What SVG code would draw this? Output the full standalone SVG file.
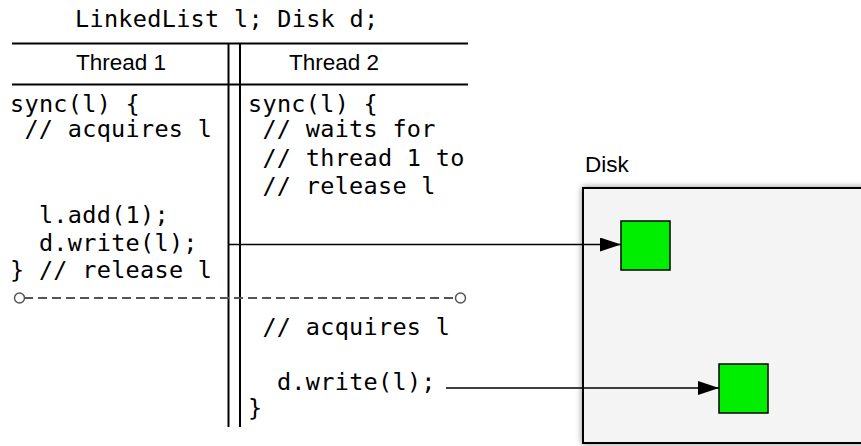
<svg xmlns="http://www.w3.org/2000/svg" width="861" height="446" viewBox="0 0 861 446">
<style>
.mono{font-family:"DejaVu Sans Mono","Liberation Mono",monospace;font-size:23.5px;letter-spacing:0.3px;fill:#000}
.sans{font-family:"Liberation Sans",Arial,sans-serif;font-size:22.5px;fill:#000}
.rule{stroke:#000;stroke-width:2;fill:none}
.conn{stroke:#000;stroke-width:1.5;fill:none}
.sq{fill:#00ee00;stroke:#000;stroke-width:1.5}
</style>
<defs>
<marker id="ah" markerWidth="21" markerHeight="14" refX="21" refY="7" orient="auto" markerUnits="userSpaceOnUse">
<path d="M0,0 L21,7 L0,14 Z" fill="#000"/>
</marker>
<filter id="sh" x="-10%" y="-10%" width="120%" height="120%">
<feDropShadow dx="0" dy="0" stdDeviation="3" flood-color="#000" flood-opacity="0.45"/>
</filter>
</defs>
<rect width="861" height="446" fill="#fff"/>

<g id="table">
<text class="mono" x="75" y="27">LinkedList l; Disk d;</text>
<line class="rule" x1="12" y1="43.5" x2="468" y2="43.5"/>
<line class="rule" x1="12" y1="84.5" x2="468" y2="84.5"/>
<line class="rule" x1="228.5" y1="43" x2="228.5" y2="427"/>
<line class="rule" x1="240" y1="43" x2="240" y2="427"/>
<text class="sans" x="121" y="70" text-anchor="middle">Thread 1</text>
<text class="sans" x="334" y="70" text-anchor="middle">Thread 2</text>
</g>

<g id="thread1">
<text class="mono" x="10" y="112">sync(l) {</text>
<text class="mono" x="24.4" y="137">// acquires l</text>
<text class="mono" x="38.9" y="223">l.add(1);</text>
<text class="mono" x="38.9" y="251">d.write(l);</text>
<text class="mono" x="10" y="278">} // release l</text>
</g>

<g id="thread2">
<text class="mono" x="248" y="112">sync(l) {</text>
<text class="mono" x="262.4" y="137">// waits for</text>
<text class="mono" x="262.4" y="166">// thread 1 to</text>
<text class="mono" x="262.4" y="194">// release l</text>
<text class="mono" x="262.4" y="335">// acquires l</text>
<text class="mono" x="276.9" y="390">d.write(l);</text>
<text class="mono" x="248" y="416">}</text>
</g>

<g id="disk">
<text class="sans" x="585" y="172">Disk</text>
<rect x="583" y="188" width="290" height="255" fill="#f4f4f4" stroke="#000" stroke-width="2" filter="url(#sh)"/>
</g>
<g id="block1"><rect class="sq" x="621" y="221" width="49" height="49"/></g>
<g id="block2"><rect class="sq" x="719" y="364" width="49" height="49"/></g>

<g id="connectors">
<line x1="24" y1="298" x2="456" y2="298" stroke="#555" stroke-width="2" stroke-dasharray="9,5"/>
<circle cx="19.5" cy="298" r="5" fill="#fff" stroke="#555" stroke-width="1.5"/>
<circle cx="460.5" cy="298" r="5" fill="#fff" stroke="#555" stroke-width="1.5"/>
<line class="conn" x1="228" y1="244.5" x2="621" y2="244.5" marker-end="url(#ah)"/>
<line class="conn" x1="446" y1="388" x2="719" y2="388" marker-end="url(#ah)"/>
</g>
</svg>
